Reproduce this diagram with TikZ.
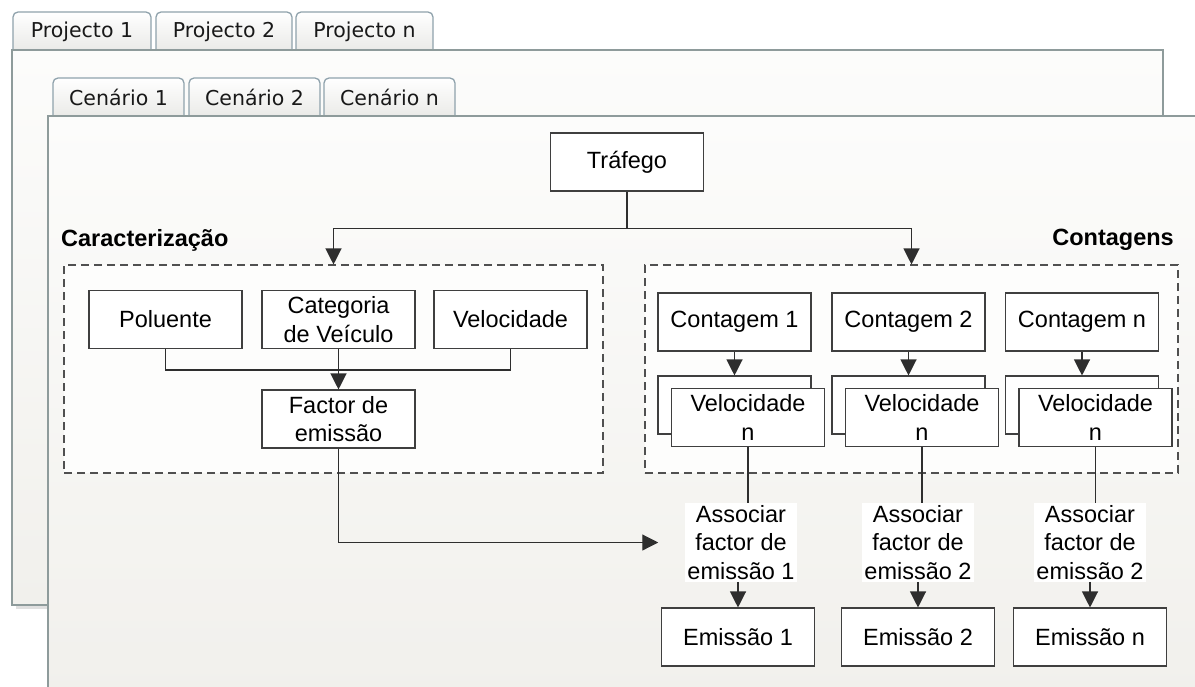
\documentclass[tikz,border=0pt]{standalone}
\usepackage{fontspec}
\setmainfont{Liberation Sans}
\newfontfamily\tabfamily{DejaVu Sans}
\usetikzlibrary{arrows.meta,calc}
\definecolor{panelborder}{HTML}{8E9B9B}
\definecolor{tabborder}{HTML}{8FA2AC}
\definecolor{linec}{HTML}{2E2E2E}
\definecolor{boxc}{HTML}{3F3F3F}
\definecolor{dashc}{HTML}{505050}
\definecolor{paneltop}{HTML}{FCFCFB}
\definecolor{panelbot}{HTML}{F1F0EC}
\definecolor{tabbot}{HTML}{E6E6E3}
\definecolor{dfill}{HTML}{FDFDFC}
\newcommand\diagfont{\fontsize{23.5}{28.5}\selectfont}
\newcommand\tabfnt{\tabfamily\fontsize{20.5}{24}\selectfont}
\tikzset{
  box/.style={draw=boxc, fill=white, line width=1.1pt, minimum width=153pt, minimum height=58pt, align=center, inner sep=0pt, font=\diagfont},
  dbox/.style={draw=dashc, fill=dfill, line width=1.1pt, dash pattern=on 8pt off 5pt},
  lbl/.style={font=\diagfont\bfseries, inner sep=0pt},
  assoc/.style={fill=white, align=center, inner sep=2pt, font=\diagfont},
  conn/.style={draw=linec, line width=1.2pt},
  arr/.style={conn, -{Triangle[length=16pt,width=16pt]}},
  tabshape/.style={draw=tabborder, line width=1.3pt, top color=white, bottom color=tabbot},
  tabtext/.style={font=\tabfnt, text=black!90, inner sep=0pt},
  panel/.style={draw=panelborder, line width=2.2pt, top color=paneltop, bottom color=panelbot}
}
\begin{document}
\begin{tikzpicture}[x=1pt,y=-1pt]
\useasboundingbox (0,0) rectangle (1195,686);
\clip (0,0) rectangle (1195,686);
\fill[white] (0,0) rectangle (1195,686);
% project tabs
\path[tabshape, rounded corners=5pt] (13,58) rectangle (151,12);
\path[tabshape, rounded corners=5pt] (156,58) rectangle (292,12);
\path[tabshape, rounded corners=5pt] (296,58) rectangle (433,12);
\node[tabtext] (p1) at (82,31.5) {Projecto 1};
\node[tabtext] (p2) at (224,31.5) {Projecto 2};
\node[tabtext] (pn) at (364.5,31.5) {Projecto n};
% project panel
\fill[black!12] (16,604) rectangle (1163,609);
\path[panel] (12,50) rectangle (1163,605);
% scenario tabs
\path[tabshape, rounded corners=5pt] (53,124) rectangle (184,78);
\path[tabshape, rounded corners=5pt] (189,124) rectangle (320,78);
\path[tabshape, rounded corners=5pt] (324,124) rectangle (455,78);
\node[tabtext] (c1) at (118.5,97.5) {Cenário 1};
\node[tabtext] (c2) at (254.5,97.5) {Cenário 2};
\node[tabtext] (cn) at (389.5,97.5) {Cenário n};
% scenario panel
\path[panel] (48,116) rectangle (1210,700);

% diagram
\node[box] (traf) at (627,162) {Tráfego};
\node[lbl, anchor=west] (carlab) at (61,240) {Caracterização};
\node[lbl, anchor=east] (contlab) at (1174,240) {Contagens};
\node[dbox, minimum width=539pt, minimum height=208pt] (cara) at (333.5,369) {};
\node[dbox, minimum width=533pt, minimum height=208pt] (cont) at (911.5,369) {};

\node[box] (pol) at (165.5,319.5) {Poluente};
\node[box] (cat) at (338.5,319.5) {Categoria\\de Veículo};
\node[box] (vel) at (510.5,319.5) {Velocidade};
\node[box] (fac) at (338.5,419) {Factor de\\emissão};

\node[box] (k1) at (734.5,322) {Contagem 1};
\node[box] (k2) at (908.5,322) {Contagem 2};
\node[box] (kn) at (1082,322) {Contagem n};

\node[box] (vb1) at (734.5,405) {};
\node[box] (vb2) at (908.5,405) {};
\node[box] (vbn) at (1082,405) {};
\node[box] (v1) at (748,417.5) {Velocidade\\n};
\node[box] (v2) at (922,417.5) {Velocidade\\n};
\node[box] (vn) at (1095.5,417.5) {Velocidade\\n};

\node[assoc] (a1) at (741,542.5) {Associar\\factor de\\emissão 1};
\node[assoc] (a2) at (918,542.5) {Associar\\factor de\\emissão 2};
\node[assoc] (an) at (1090,542.5) {Associar\\factor de\\emissão 2};

\node[box] (e1) at (738,637) {Emissão 1};
\node[box] (e2) at (918,637) {Emissão 2};
\node[box] (en) at (1090,637) {Emissão n};

% connectors
\coordinate (j) at ($(traf.south)+(0,37)$);
\draw[conn] (traf.south) -- (j);
\draw[arr] (j) -| (cara.north);
\draw[arr] (j) -| (cont.north);

\coordinate (jl) at ($(pol.south)+(0,21)$);
\draw[conn] (pol.south) -- (jl) -| (vel.south);
\draw[arr] (cat.south) -- (fac.north);

\coordinate (fend) at ($(a1.west)+(-27,0)$);
\draw[arr] (fac.south) |- (fend);

\draw[arr] (k1.south) -- (vb1.north);
\draw[arr] (k2.south) -- (vb2.north);
\draw[arr] (kn.south) -- (vbn.north);

\draw[conn] (v1.south) -- (v1.south |- a1.north);
\draw[conn] (v2.south) -- (v2.south |- a2.north);
\draw[conn] (vn.south) -- (vn.south |- an.north);

\draw[arr] (a1.south -| e1.north) -- (e1.north);
\draw[arr] (a2.south -| e2.north) -- (e2.north);
\draw[arr] (an.south -| en.north) -- (en.north);
\end{tikzpicture}
\end{document}
